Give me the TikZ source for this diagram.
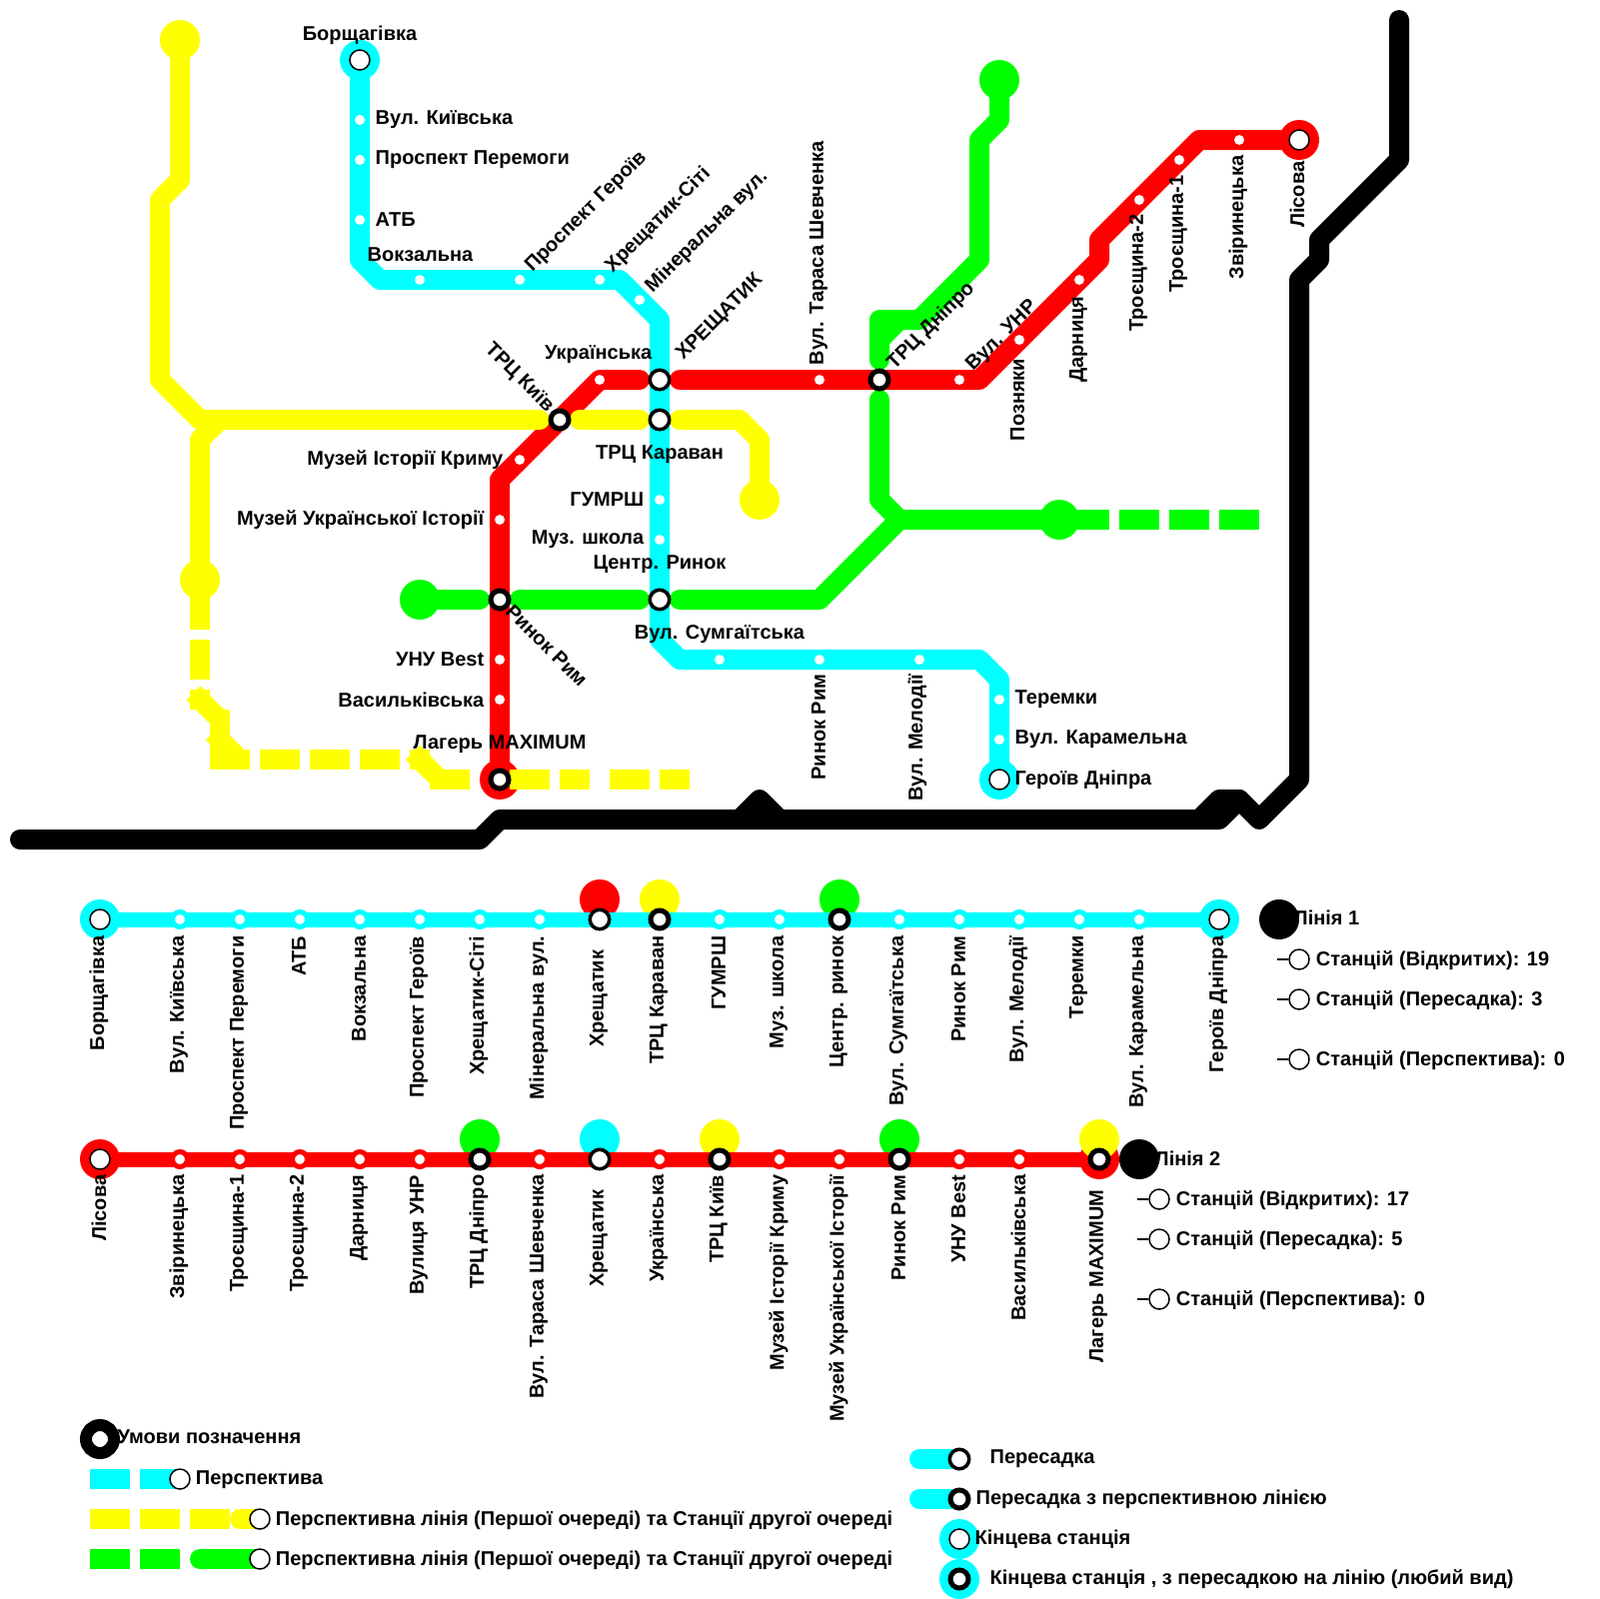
\documentclass[tikz,border=0pt]{standalone}
\usepackage{fontspec}
\setmainfont{Liberation Sans}
\usetikzlibrary{positioning,backgrounds}
\definecolor{metrocyan}{HTML}{00FFFF}
\definecolor{metroyellow}{HTML}{FFFF00}
\definecolor{metrored}{HTML}{FF0000}
\definecolor{metrogreen}{HTML}{00FF00}
\newcommand{\mapfont}{\bfseries\fontsize{5.69}{6.5}\selectfont}

\begin{document}
\begin{tikzpicture}[
  x=0.1mm, y=-0.1mm,
  tlab/.style={font=\mapfont, inner sep=0pt, text=black},
  lab/.style={tlab, yshift=-0.5mm},
  slab/.style={tlab, yshift=-0.1mm},
  vlab/.style={tlab, rotate=90, anchor=east},
  ulab/.style={tlab, rotate=90, anchor=west},
  dlab/.style={tlab, rotate=45, anchor=west},
  rlab/.style={tlab, rotate=-45},
  dot/.style={circle, fill=white, inner sep=0pt, minimum size=1mm},
  term/.style={circle, draw=black, fill=white, line width=0.15mm, inner sep=0pt, minimum size=2mm},
  hub/.style={circle, draw=black, fill=white, line width=0.35mm, inner sep=0pt, minimum size=1.95mm},
  hubx/.style={circle, draw=black, fill=white, line width=0.5mm, inner sep=0pt, minimum size=1.8mm},
  bulb/.style={circle, inner sep=0pt, minimum size=4mm},
  route/.style={line width=2mm, line cap=round, line join=round},
  piece/.style={line width=2mm, line cap=butt},
  gaps/.style={piece, dash pattern=on 4mm off 1mm},
  strip/.style={line width=1.5mm},
  sdotc/.style={dot, draw=metrocyan, line width=0.5mm, minimum size=1.5mm},
  sdotr/.style={dot, draw=metrored, line width=0.5mm, minimum size=1.5mm},
  stub/.style={line width=0.15mm}
]
  \useasboundingbox (0,0) rectangle (1600,1600);

  %% Line 1 stations
  \node[term] (borsh) at (360,60) {};
  \node[dot] (kyivska) at (360,120) {};
  \node[dot] (peremoha) at (360,160) {};
  \node[dot] (atb) at (360,220) {};
  \node[dot] (vokzal) at (420,280) {};
  \node[dot] (heroiv) at (520,280) {};
  \node[dot] (city) at (600,280) {};
  \node[dot] (mineral) at (640,300) {};
  \node[hub] (khresh) at (660,380) {};
  \node[hub] (karavan) at (660,420) {};
  \node[dot] (humrsh) at (660,500) {};
  \node[dot] (muz) at (660,540) {};
  \node[hub] (centr) at (660,600) {};
  \node[dot] (sumg) at (720,660) {};
  \node[dot] (rym) at (820,660) {};
  \node[dot] (melod) at (920,660) {};
  \node[dot] (terem) at (1000,700) {};
  \node[dot] (karam) at (1000,740) {};
  \node[term] (dnipra) at (1000,780) {};

  %% Line 2 stations
  \node[term] (lisova) at (1300,140) {};
  \node[dot] (zvir) at (1240,140) {};
  \node[dot] (troe1) at (1180,160) {};
  \node[dot] (troe2) at (1140,200) {};
  \node[dot] (darn) at (1080,280) {};
  \node[dot] (pozn) at (1020,340) {};
  \node[dot] (unr) at (960,380) {};
  \node[hubx] (trcd) at (880,380) {};
  \node[dot] (shev) at (820,380) {};
  \node[dot] (ukr) at (600,380) {};
  \node[hubx] (trck) at (560,420) {};
  \node[dot] (krym) at (520,460) {};
  \node[dot] (ukrist) at (500,520) {};
  \node[hubx] (rynok) at (500,600) {};
  \node[dot] (best) at (500,660) {};
  \node[dot] (vasyl) at (500,700) {};
  \node[hubx] (laher) at (500,780) {};

  %% Ends of the other lines
  \node[bulb, fill=metroyellow] (ytop) at (180,40) {};
  \node[bulb, fill=metroyellow] (ymid) at (200,580) {};
  \node[bulb, fill=metroyellow] (yend) at (760,500) {};
  \node[bulb, fill=metrogreen] (gtop) at (1000,80) {};
  \node[bulb, fill=metrogreen] (gleft) at (420,600) {};
  \node[bulb, fill=metrogreen] (gright) at (1060,520) {};

  %% Strip of line 1
  \node[term] (a1) at (100,920) {};
  \node[sdotc] (a2) at (180,920) {};
  \node[sdotc] (a3) at (240,920) {};
  \node[sdotc] (a4) at (300,920) {};
  \node[sdotc] (a5) at (360,920) {};
  \node[sdotc] (a6) at (420,920) {};
  \node[sdotc] (a7) at (480,920) {};
  \node[sdotc] (a8) at (540,920) {};
  \node[hub] (a9) at (600,920) {};
  \node[hubx] (a10) at (660,920) {};
  \node[sdotc] (a11) at (720,920) {};
  \node[sdotc] (a12) at (780,920) {};
  \node[hubx] (a13) at (840,920) {};
  \node[sdotc] (a14) at (900,920) {};
  \node[sdotc] (a15) at (960,920) {};
  \node[sdotc] (a16) at (1020,920) {};
  \node[sdotc] (a17) at (1080,920) {};
  \node[sdotc] (a18) at (1140,920) {};
  \node[term] (a19) at (1220,920) {};

  %% Strip of line 2
  \node[term] (b1) at (100,1160) {};
  \node[sdotr] (b2) at (180,1160) {};
  \node[sdotr] (b3) at (240,1160) {};
  \node[sdotr] (b4) at (300,1160) {};
  \node[sdotr] (b5) at (360,1160) {};
  \node[sdotr] (b6) at (420,1160) {};
  \node[hubx] (b7) at (480,1160) {};
  \node[sdotr] (b8) at (540,1160) {};
  \node[hub] (b9) at (600,1160) {};
  \node[sdotr] (b10) at (660,1160) {};
  \node[hubx] (b11) at (720,1160) {};
  \node[sdotr] (b12) at (780,1160) {};
  \node[sdotr] (b13) at (840,1160) {};
  \node[hubx] (b14) at (900,1160) {};
  \node[sdotr] (b15) at (960,1160) {};
  \node[sdotr] (b16) at (1020,1160) {};
  \node[hubx] (b17) at (1100,1160) {};

  %% Totals
  \node[bulb, fill=black] (tot1) at (1280,920) {};
  \node[lab, anchor=west] (tot1t) at (1294,913) {Лінія 1};
  \node[term] (n1a) at (1300,960) {};
  \node[term] (n1b) at (1300,1000) {};
  \node[term] (n1c) at (1300,1060) {};
  \node[slab, right=0.55mm of n1a] (n1at) {Станцій (Відкритих): 19};
  \node[slab, right=0.55mm of n1b] (n1bt) {Станцій (Пересадка): 3};
  \node[slab, right=0.55mm of n1c] (n1ct) {Станцій (Перспектива): 0};
  \coordinate[left=1.1mm of n1a] (n1al);
  \coordinate[left=1.1mm of n1b] (n1bl);
  \coordinate[left=1.1mm of n1c] (n1cl);
  \draw[stub] (n1al) -- (n1a);
  \draw[stub] (n1bl) -- (n1b);
  \draw[stub] (n1cl) -- (n1c);

  \node[bulb, fill=black] (tot2) at (1140,1160) {};
  \node[lab, anchor=west] (tot2t) at (1155,1154) {Лінія 2};
  \node[term] (n2a) at (1160,1200) {};
  \node[term] (n2b) at (1160,1240) {};
  \node[term] (n2c) at (1160,1300) {};
  \node[slab, right=0.55mm of n2a] (n2at) {Станцій (Відкритих): 17};
  \node[slab, right=0.55mm of n2b] (n2bt) {Станцій (Пересадка): 5};
  \node[slab, right=0.55mm of n2c] (n2ct) {Станцій (Перспектива): 0};
  \coordinate[left=1.1mm of n2a] (n2al);
  \coordinate[left=1.1mm of n2b] (n2bl);
  \coordinate[left=1.1mm of n2c] (n2cl);
  \draw[stub] (n2al) -- (n2a);
  \draw[stub] (n2bl) -- (n2b);
  \draw[stub] (n2cl) -- (n2c);

  %% Legend
  \node[circle, draw=black, fill=white, line width=1.2mm, inner sep=0pt, minimum size=2.8mm] (umovy) at (100,1440) {};
  \node[lab, anchor=west] (umovyt) at (117,1433) {Умови позначення};
  \node[term] (k1) at (180,1480) {};
  \node[term] (k2) at (260,1520) {};
  \node[term] (k3) at (260,1560) {};
  \node[slab, right=0.45mm of k1] (k1t) {Перспектива};
  \node[slab, right=0.45mm of k2] (k2t) {Перспективна лінія (Першої очереді) та Станції другої очереді};
  \node[slab, right=0.45mm of k3] (k3t) {Перспективна лінія (Першої очереді) та Станції другої очереді};
  \node[hub] (m1) at (960,1460) {};
  \node[hubx] (m2) at (960,1500) {};
  \node[term] (m3) at (960,1540) {};
  \node[hubx] (m4) at (960,1580) {};
  \node[lab, anchor=west] (m1t) at (990,1455) {Пересадка};
  \node[lab, anchor=west] (m2t) at (976,1495) {Пересадка з перспективною лінією};
  \node[lab, anchor=west] (m3t) at (975,1535) {Кінцева станція};
  \node[lab, anchor=west] (m4t) at (990,1575) {Кінцева станція , з пересадкою на лінію (любий вид)};

  %% Labels of the map, line 1
  \node[lab] at (360,30) {Борщагівка};
  \node[lab, anchor=west] at (375,115) {Вул. Київська};
  \node[lab, anchor=west] at (375,155) {Проспект Перемоги};
  \node[lab, anchor=west] at (375,215) {АТБ};
  \node[lab, anchor=west] at (367,250) {Вокзальна};
  \node[dlab] at (529,270) {Проспект Героїв};
  \node[dlab] at (609,270) {Хрещатик-Сіті};
  \node[dlab] at (649,290) {Мінеральна вул.};
  \node[dlab] at (680,358) {ХРЕЩАТИК};
  \node[lab] at (660,450) {ТРЦ Караван};
  \node[lab, anchor=east] at (645,495) {ГУМРШ};
  \node[lab, anchor=east] at (645,535) {Муз. школа};
  \node[lab] at (660,560) {Центр. Ринок};
  \node[lab] at (720,630) {Вул. Сумгаїтська};
  \node[vlab] at (819,674) {Ринок Рим};
  \node[vlab] at (918,674) {Вул. Мелодії};
  \node[lab, anchor=west] at (1015,695) {Теремки};
  \node[lab, anchor=west] at (1015,735) {Вул. Карамельна};
  \node[lab, anchor=west] at (1015,775) {Героїв Дніпра};

  %% Labels of the map, line 2
  \node[vlab] at (1298,161) {Лісова};
  \node[vlab] at (1239,155) {Звіринецька};
  \node[vlab] at (1179,175) {Троєщина-1};
  \node[vlab] at (1139,214) {Троєщина-2};
  \node[vlab] at (1079,296) {Дарниця};
  \node[vlab] at (1018,358) {Позняки};
  \node[dlab] at (970,369) {Вул. УНР};
  \node[dlab] at (891,367) {ТРЦ Дніпро};
  \node[ulab] at (819,366) {Вул. Тараса Шевченка};
  \node[lab, anchor=east] at (653,350) {Українська};
  \node[rlab, anchor=east] at (551,410) {ТРЦ Київ};
  \node[lab, anchor=east] at (504,455) {Музей Історії Криму};
  \node[lab, anchor=east] at (485,515) {Музей Української Історії};
  \node[rlab, anchor=west] at (509,608) {Ринок Рим};
  \node[lab, anchor=east] at (485,655) {УНУ Best};
  \node[lab, anchor=east] at (485,695) {Васильківська};
  \node[lab] at (500,740) {Лагерь MAXIMUM};

  %% Labels of strip 1
  \node[vlab] at (99,936) {Борщагівка};
  \node[vlab] at (179,936) {Вул. Київська};
  \node[vlab] at (239,936) {Проспект Перемоги};
  \node[vlab] at (299,936) {АТБ};
  \node[vlab] at (359,936) {Вокзальна};
  \node[vlab] at (419,936) {Проспект Героїв};
  \node[vlab] at (479,936) {Хрещатик-Сіті};
  \node[vlab] at (539,936) {Мінеральна вул.};
  \node[vlab] at (599,950) {Хрещатик};
  \node[vlab] at (659,936) {ТРЦ Караван};
  \node[vlab] at (719,936) {ГУМРШ};
  \node[vlab] at (779,936) {Муз. школа};
  \node[vlab] at (839,936) {Центр. ринок};
  \node[vlab] at (899,936) {Вул. Сумгаїтська};
  \node[vlab] at (959,936) {Ринок Рим};
  \node[vlab] at (1019,936) {Вул. Мелодії};
  \node[vlab] at (1079,936) {Теремки};
  \node[vlab] at (1139,936) {Вул. Карамельна};
  \node[vlab] at (1219,936) {Героїв Дніпра};

  %% Labels of strip 2
  \node[vlab] at (99,1175) {Лісова};
  \node[vlab] at (179,1175) {Звіринецька};
  \node[vlab] at (239,1175) {Троєщина-1};
  \node[vlab] at (299,1175) {Троєщина-2};
  \node[vlab] at (359,1175) {Дарниця};
  \node[vlab] at (419,1175) {Вулиця УНР};
  \node[vlab] at (479,1175) {ТРЦ Дніпро};
  \node[vlab] at (539,1175) {Вул. Тараса Шевченка};
  \node[vlab] at (599,1190) {Хрещатик};
  \node[vlab] at (659,1175) {Українська};
  \node[vlab] at (719,1175) {ТРЦ Київ};
  \node[vlab] at (779,1175) {Музей Історії Криму};
  \node[vlab] at (839,1175) {Музей Української Історії};
  \node[vlab] at (899,1175) {Ринок Рим};
  \node[vlab] at (959,1175) {УНУ Best};
  \node[vlab] at (1019,1175) {Васильківська};
  \node[vlab] at (1099,1190) {Лагерь MAXIMUM};

  \begin{scope}[on background layer]
    %% Black line
    \draw[route, black] (20,840) -- (480,840) -- (500,820) -- (1220,820) -- (1240,800) -- (1260,820) -- (1300,780)
      -- (1300,280) -- (1320,260) -- (1320,240) -- (1400,160) -- (1400,20);
    \draw[route, black] (740,820) -- (760,800) -- (780,820);
    \draw[route, black] (1200,820) -- (1220,800) -- (1240,800);

    %% Green line
    \draw[route, metrogreen] (gtop.center) -- (1000,120) -- (980,140) -- (980,260) -- (920,320) -- (880,320) -- (880,360);
    \draw[route, metrogreen] (900,320) -- (880,340);
    \draw[route, metrogreen] (880,400) -- (880,500) -- (900,520);
    \draw[route, metrogreen] (gleft.center) -- (480,600);
    \draw[route, metrogreen] (520,600) -- (640,600);
    \draw[route, metrogreen] (680,600) -- (820,600) -- (900,520);
    \draw[piece, metrogreen] (900,520) -- (gright.center) -- (1110,520);
    \draw[gaps, metrogreen] (1120,520) -- (1260,520);

    %% Red line
    \draw[route, metrored] (lisova.center) -- (1200,140) -- (1100,240) -- (1100,260) -- (980,380) -- (680,380);
    \draw[route, metrored] (640,380) -- (ukr.center) -- (trck.center) -- (500,480) -- (laher.center);

    %% Yellow line
    \draw[route, metroyellow] (ytop.center) -- (180,180) -- (160,200) -- (160,380) -- (200,420) -- (540,420);
    \draw[route, metroyellow, line cap=butt] (220,420) -- (200,440) -- (ymid.center) -- (200,630);
    \draw[route, metroyellow] (580,420) -- (640,420);
    \draw[route, metroyellow] (680,420) -- (740,420) -- (760,440) -- (yend.center);

    %% Cyan line
    \draw[route, metrocyan] (borsh.center) -- (360,260) -- (380,280) -- (620,280) -- (660,320) -- (660,640) -- (680,660)
      -- (980,660) -- (1000,680) -- (dnipra.center);

    %% Red terminus under the planned line
    \node[bulb, fill=metrored] (laherh) at (laher) {};
    \node[bulb, fill=metrocyan] (borshh) at (borsh) {};
    \node[bulb, fill=metrocyan] (dniprah) at (dnipra) {};
    \node[bulb, fill=metrored] (lisovah) at (lisova) {};

    %% Planned yellow line
    \draw[piece, metroyellow] (200,640) -- (200,680);
    \draw[piece, metroyellow] (200,690) -- (200,710);
    \draw[piece, metroyellow] (193.5,693.5) -- (220,720);
    \draw[piece, metroyellow] (220,710) -- (220,770);
    \draw[piece, metroyellow] (213,733) -- (240,760);
    \draw[piece, metroyellow] (210,760) -- (250,760);
    \draw[gaps, metroyellow] (260,760) -- (400,760);
    \draw[piece, metroyellow] (410,760) -- (430,760);
    \draw[piece, metroyellow] (413,753) -- (440,780);
    \draw[piece, metroyellow] (430,780) -- (470,780);
    \draw[piece, metroyellow] (510,780) -- (550,780);
    \draw[piece, metroyellow] (560,780) -- (590,780);
    \draw[piece, metroyellow] (610,780) -- (650,780);
    \draw[piece, metroyellow] (660,780) -- (690,780);

    %% Strip 1
    \node[bulb, fill=metrored] (a9c) at (600,900) {};
    \node[bulb, fill=metroyellow] (a10c) at (660,900) {};
    \node[bulb, fill=metrogreen] (a13c) at (840,900) {};
    \draw[strip, metrocyan] (a1.center) -- (a19.center);
    \node[bulb, fill=metrocyan] (a1h) at (a1) {};
    \node[bulb, fill=metrocyan] (a19h) at (a19) {};

    %% Strip 2
    \node[bulb, fill=metrogreen] (b7c) at (480,1140) {};
    \node[bulb, fill=metrocyan] (b9c) at (600,1140) {};
    \node[bulb, fill=metroyellow] (b11c) at (720,1140) {};
    \node[bulb, fill=metrogreen] (b14c) at (900,1140) {};
    \draw[strip, metrored] (b1.center) -- (b17.center);
    \node[bulb, fill=metrored] (b1h) at (b1) {};
    \node[bulb, fill=metrored] (b17h) at (b17) {};
    \node[bulb, fill=metroyellow] (b17c) at (1100,1140) {};

    %% Legend samples
    \draw[piece, metrocyan] (90,1480) -- (130,1480);
    \draw[piece, metrocyan] (140,1480) -- (k1.center);
    \draw[gaps, metroyellow] (90,1520) -- (230,1520);
    \draw[route, metroyellow] (240,1520) -- (k2.center);
    \draw[piece, metrogreen] (90,1560) -- (130,1560);
    \draw[piece, metrogreen] (140,1560) -- (180,1560);
    \draw[route, metrogreen] (200,1560) -- (k3.center);
    \draw[route, metrocyan] (920,1460) -- (m1.center);
    \draw[route, metrocyan] (920,1500) -- (m2.center);
    \node[bulb, fill=metrocyan] (m3h) at (m3) {};
    \node[bulb, fill=metrocyan] (m4h) at (m4) {};
  \end{scope}
\end{tikzpicture}
\end{document}
